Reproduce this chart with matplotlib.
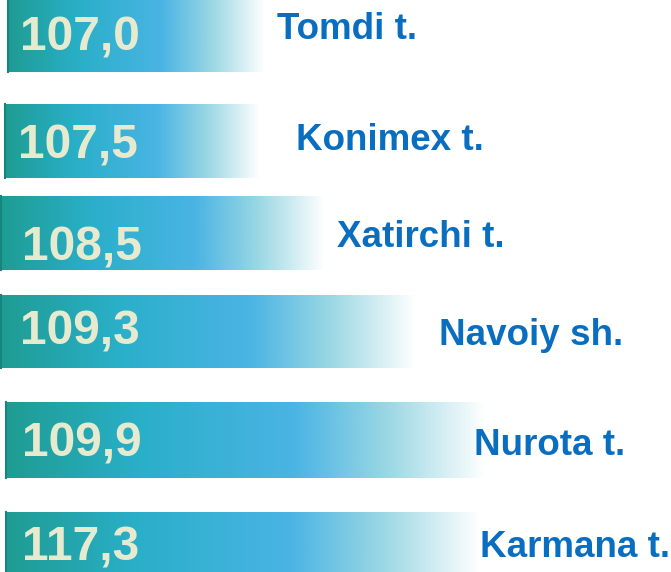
import numpy as np
import matplotlib
matplotlib.use("Agg")
import matplotlib.pyplot as plt
from matplotlib.colors import LinearSegmentedColormap

# data
districts = ["Tomdi t.", "Konimex t.", "Xatirchi t.", "Navoiy sh.", "Nurota t.", "Karmana t."]
values = [107.0, 107.5, 108.5, 109.3, 109.9, 117.3]

# layout in pixel units (the bars are not drawn to scale in the original)
bar_left = [7, 4, 0, 0, 5, 5]
bar_right = [265, 260, 325, 416, 486, 480]
bar_top = [0, 104, 196, 295, 402, 512]
bar_bottom = [72, 178, 270, 368, 478, 590]
value_x = [20, 18, 22, 20, 22, 22]
value_base = [51, 158, 260, 345, 456, 560]
name_x = [277, 296, 337, 439, 474, 480]
name_base = [39, 150, 247, 345, 455, 557]

grad = LinearSegmentedColormap.from_list(
    "bar_grad",
    [(0.0, "#1E9C92"), (0.28, "#2AAFC9"), (0.6, "#4AB4E4"),
     (0.8, "#9CD8E4"), (1.0, "#FFFFFF")])

W, H = 671, 572
fig = plt.figure(figsize=(W / 100, H / 100), dpi=100)
ax = fig.add_axes([0, 0, 1, 1])
ax.set_xlim(0, W)
ax.set_ylim(H, 0)
ax.axis("off")

ramp = np.linspace(0, 1, 256).reshape(1, -1)

for i, val in enumerate(values):
    x0, x1 = bar_left[i], bar_right[i]
    y0, y1 = bar_top[i], bar_bottom[i]
    ax.imshow(ramp, cmap=grad, aspect="auto", extent=(x0, x1, y1, y0),
              interpolation="bilinear", zorder=1)
    # darker edge on the left of each bar
    ax.plot([x0 + 1, x0 + 1], [y0, y1], color="#16857C", lw=1.5, zorder=2)
    ax.text(value_x[i], value_base[i], f"{val:.1f}".replace(".", ","),
            fontsize=34.5, fontweight="bold", color="#E6EBCF",
            family="Liberation Sans", ha="left", va="baseline", zorder=3)
    ax.text(name_x[i], name_base[i], districts[i],
            fontsize=26.5, fontweight="bold", color="#0A6EC0",
            family="Liberation Sans", ha="left", va="baseline", zorder=3)

ax.set_xlim(0, W)
ax.set_ylim(H, 0)
fig.savefig("out.png", dpi=100)
